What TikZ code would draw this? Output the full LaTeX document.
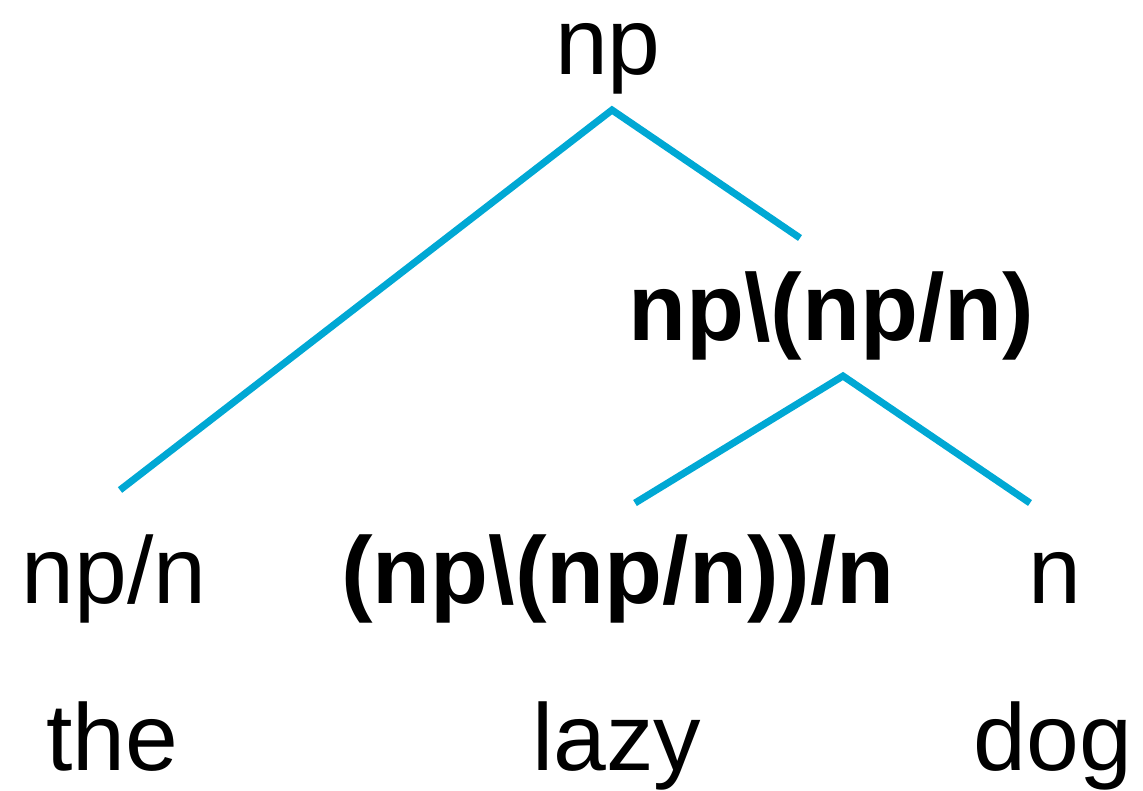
\documentclass[tikz,border=0pt]{standalone}
\usepackage{fontspec}
\setmainfont{Liberation Sans}
\usetikzlibrary{positioning}
\definecolor{branch}{RGB}{0,168,212}
\tikzset{
  cat/.style={anchor=base,inner sep=0pt,font=\fontsize{27}{30}\selectfont},
  bcat/.style={cat,font=\fontsize{27}{30}\selectfont\bfseries},
  word/.style={cat},
  edge/.style={draw=branch,line width=2pt},
}
\begin{document}
\begin{tikzpicture}
  \useasboundingbox (0,0) rectangle (11.43,-7.9);
  % categories
  \node[cat] (root) at (6.08,-0.74) {np};
  \node[bcat] (mod) at (8.31,-3.40) {np\textbackslash(np/n)};
  \node[cat] (det) at (1.14,-6.03) {np/n};
  \node[bcat] (adj) at (6.18,-6.03) {(np\textbackslash(np/n))/n};
  \node[cat] (noun) at (10.55,-6.03) {n};
  % words
  \node[word] (the) at (1.12,-7.70) {the};
  \node[word] (lazy) at (6.17,-7.70) {lazy};
  \node[word] (dog) at (10.53,-7.70) {dog};
  % branch ends
  \coordinate (rootb) at (6.12,-1.10);
  \coordinate (detb) at (1.20,-4.90);
  \coordinate (modt) at (8.00,-2.38);
  \coordinate (modb) at (8.43,-3.76);
  \coordinate (adjt) at (6.35,-5.03);
  \coordinate (nount) at (10.30,-5.03);
  \draw[edge] (detb) -- (rootb) -- (modt);
  \draw[edge] (adjt) -- (modb) -- (nount);
\end{tikzpicture}
\end{document}
